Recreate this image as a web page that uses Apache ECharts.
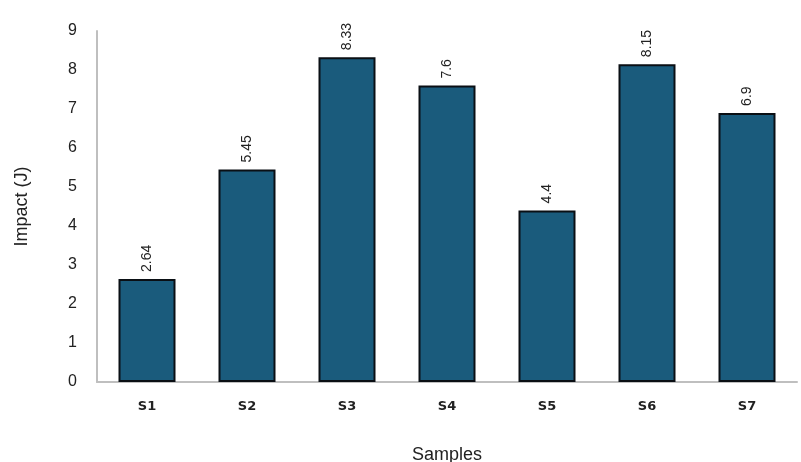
<!DOCTYPE html>
<html>
<head>
<meta charset="utf-8">
<script src="https://cdn.jsdelivr.net/npm/echarts@6/dist/echarts.min.js"></script>
<style>
  html, body { margin: 0; padding: 0; background: #fff; }
  #chart { width: 801px; height: 462px; }
</style>
</head>
<body>
<div id="chart"></div>
<script>
// Impact energy per sample
const samples = ['S1', 'S2', 'S3', 'S4', 'S5', 'S6', 'S7'];
const impact = [2.64, 5.45, 8.33, 7.6, 4.4, 8.15, 6.9];

const chart = echarts.init(document.getElementById('chart'));
chart.setOption({
  animation: false,
  grid: { left: 97, right: 4, top: 31, bottom: 80, outerBoundsMode: 'none', containLabel: false },
  xAxis: {
    type: 'category',
    data: samples,
    name: 'Samples',
    nameLocation: 'middle',
    nameGap: 64,
    nameTextStyle: { fontFamily: 'Liberation Sans', fontSize: 18, color: '#222' },
    axisLine: { lineStyle: { color: '#bfbfbf', width: 2 } },
    axisTick: { show: false },
    axisLabel: { fontFamily: 'DejaVu Sans', fontWeight: 'bold', fontSize: 13, color: '#222', margin: 18 }
  },
  yAxis: {
    type: 'value',
    min: 0,
    max: 9,
    interval: 1,
    name: 'Impact (J)',
    nameLocation: 'middle',
    nameGap: 66,
    nameRotate: 90,
    nameTextStyle: { fontFamily: 'Liberation Sans', fontSize: 18, color: '#222' },
    axisLine: { show: true, lineStyle: { color: '#bfbfbf', width: 2 } },
    axisTick: { show: false },
    splitLine: { show: false },
    axisLabel: { fontFamily: 'Liberation Sans', fontSize: 16, color: '#222', margin: 20 }
  },
  series: [{
    type: 'bar',
    data: impact,
    barWidth: '57%',
    itemStyle: { color: '#1a5b7c', borderColor: '#0a0f14', borderWidth: 2 },
    label: {
      show: true,
      position: 'top',
      rotate: 90,
      align: 'left',
      verticalAlign: 'middle',
      distance: 7,
      fontFamily: 'Liberation Sans',
      fontSize: 14,
      color: '#222'
    }
  }]
});
</script>
</body>
</html>
